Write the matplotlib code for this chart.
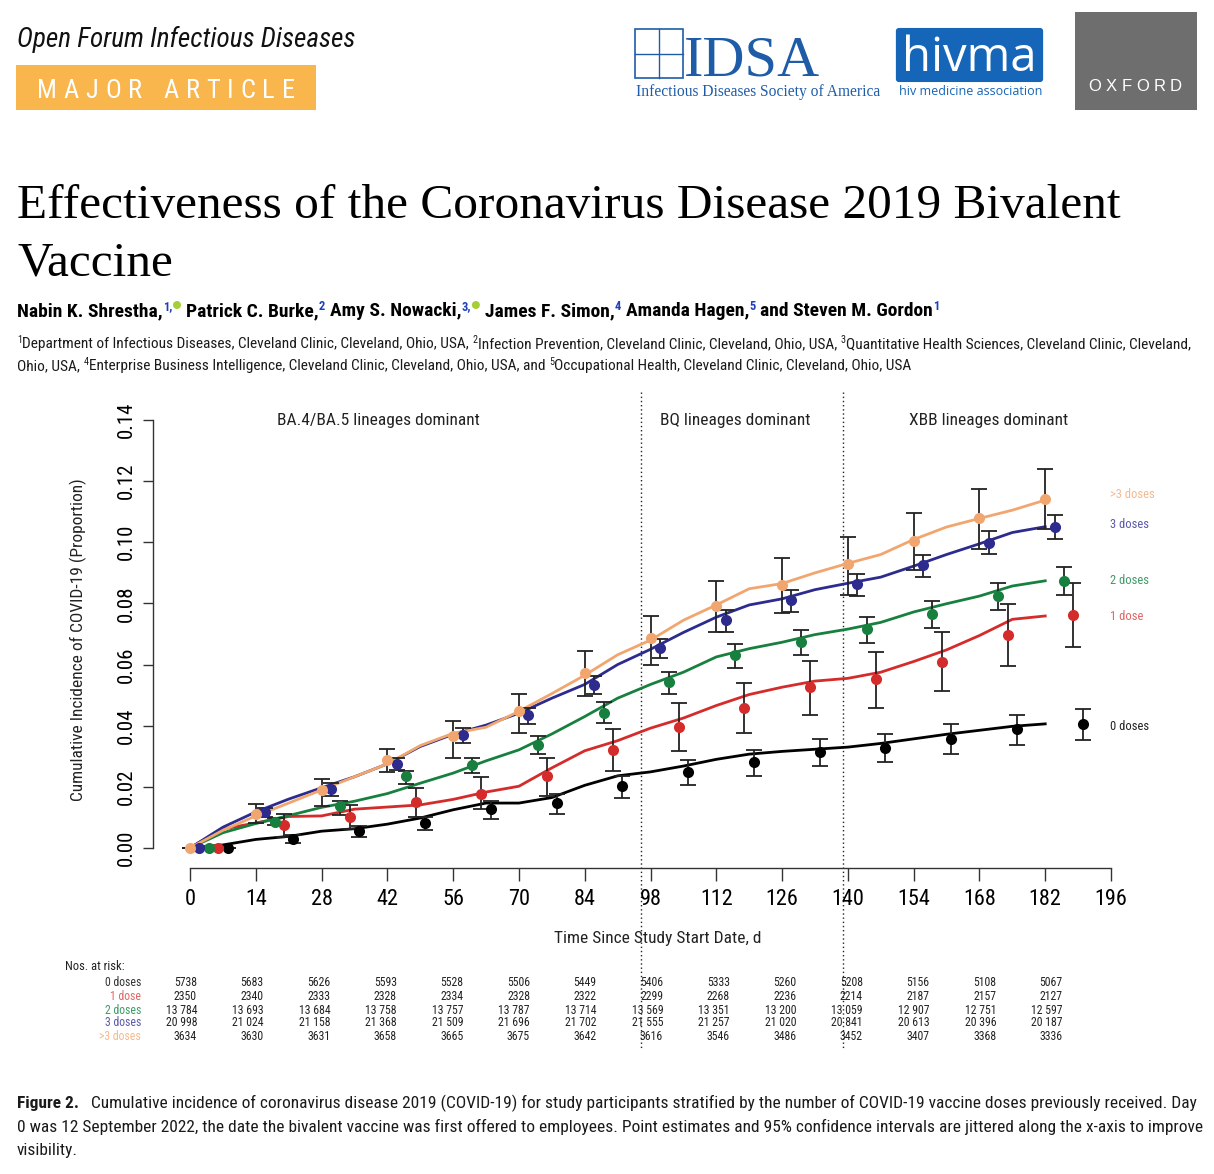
import matplotlib
matplotlib.use("Agg")
import matplotlib.pyplot as plt
from matplotlib.patches import Rectangle, FancyBboxPatch, Ellipse
from matplotlib.transforms import blended_transform_factory

# ---------------- data ----------------
curve_days = [0, 7, 14, 21, 28, 35, 42, 49, 56, 63, 70, 77, 84, 91, 98, 105,
              112, 119, 126, 133, 140, 147, 154, 161, 168, 175, 182]
ci_0 = [0, 0.0010, 0.0028, 0.0038, 0.0055, 0.0063, 0.0078, 0.0098, 0.0125, 0.0147,
        0.0147, 0.0165, 0.0205, 0.0236, 0.0249, 0.0268, 0.0290, 0.0307, 0.0316,
        0.0323, 0.0330, 0.0342, 0.0357, 0.0372, 0.0385, 0.0398, 0.0406]
ci_1 = [0, 0.0062, 0.0082, 0.0103, 0.0105, 0.0127, 0.0134, 0.0141, 0.0159, 0.0183,
        0.0202, 0.0262, 0.0318, 0.0351, 0.0392, 0.0425, 0.0466, 0.0502, 0.0526,
        0.0546, 0.0555, 0.0575, 0.0610, 0.0648, 0.0695, 0.0748, 0.0759]
ci_2 = [0, 0.0050, 0.0080, 0.0106, 0.0133, 0.0153, 0.0178, 0.0212, 0.0245, 0.0285,
        0.0321, 0.0373, 0.0430, 0.0490, 0.0535, 0.0575, 0.0625, 0.0652, 0.0673,
        0.0698, 0.0716, 0.0738, 0.0772, 0.0799, 0.0824, 0.0857, 0.0874]
ci_3 = [0, 0.0068, 0.0118, 0.0160, 0.0197, 0.0233, 0.0275, 0.0332, 0.0372, 0.0402,
        0.0441, 0.0490, 0.0535, 0.0600, 0.0650, 0.0705, 0.0755, 0.0795, 0.0815,
        0.0845, 0.0866, 0.0886, 0.0922, 0.0960, 0.0995, 0.1032, 0.1051]
ci_4 = [0, 0.0058, 0.0105, 0.0147, 0.0190, 0.0233, 0.0275, 0.0335, 0.0375, 0.0395,
        0.0447, 0.0505, 0.0565, 0.0632, 0.0680, 0.0745, 0.0795, 0.0848, 0.0865,
        0.0900, 0.0931, 0.0960, 0.1009, 0.1050, 0.1078, 0.1105, 0.1138]

pt_days = [0, 14, 28, 42, 56, 70, 84, 98, 112, 126, 140, 154, 168, 182]
pt_0 = [0, 0.0030, 0.0057, 0.0082, 0.0127, 0.0147, 0.0202, 0.0248, 0.0280, 0.0314, 0.0327, 0.0357, 0.0389, 0.0405]
lo_0 = [0, 0.0016, 0.0036, 0.0058, 0.0096, 0.0112, 0.0163, 0.0206, 0.0236, 0.0267, 0.0281, 0.0308, 0.0338, 0.0354]
hi_0 = [0, 0.0041, 0.0071, 0.0103, 0.0155, 0.0178, 0.0234, 0.0289, 0.0321, 0.0357, 0.0373, 0.0405, 0.0436, 0.0455]
pt_1 = [0, 0.0074, 0.0103, 0.0150, 0.0178, 0.0234, 0.0321, 0.0395, 0.0458, 0.0526, 0.0552, 0.0610, 0.0696, 0.0761]
lo_1 = [0, 0.0035, 0.0062, 0.0103, 0.0127, 0.0171, 0.0251, 0.0316, 0.0376, 0.0436, 0.0458, 0.0514, 0.0594, 0.0656]
hi_1 = [0, 0.0110, 0.0142, 0.0196, 0.0231, 0.0294, 0.0390, 0.0474, 0.0541, 0.0613, 0.0641, 0.0705, 0.0797, 0.0866]
pt_2 = [0, 0.0085, 0.0136, 0.0234, 0.0272, 0.0338, 0.0443, 0.0542, 0.0630, 0.0673, 0.0717, 0.0766, 0.0825, 0.0875]
lo_2 = [0, 0.0075, 0.0107, 0.0209, 0.0245, 0.0308, 0.0408, 0.0504, 0.0588, 0.0630, 0.0672, 0.0721, 0.0779, 0.0828]
hi_2 = [0, 0.0098, 0.0155, 0.0253, 0.0296, 0.0365, 0.0476, 0.0577, 0.0668, 0.0714, 0.0757, 0.0808, 0.0868, 0.0918]
pt_3 = [0, 0.0117, 0.0194, 0.0276, 0.0368, 0.0436, 0.0534, 0.0654, 0.0746, 0.0812, 0.0864, 0.0926, 0.0999, 0.1051]
lo_3 = [0, 0.0103, 0.0171, 0.0254, 0.0343, 0.0406, 0.0504, 0.0621, 0.0708, 0.0773, 0.0825, 0.0886, 0.0962, 0.1010]
hi_3 = [0, 0.0131, 0.0212, 0.0294, 0.0392, 0.0458, 0.0561, 0.0683, 0.0777, 0.0844, 0.0897, 0.0959, 0.1038, 0.1089]
pt_4 = [0, 0.0112, 0.0190, 0.0289, 0.0365, 0.0447, 0.0572, 0.0686, 0.0792, 0.0861, 0.0929, 0.1004, 0.1078, 0.1140]
lo_4 = [0, 0.0082, 0.0138, 0.0250, 0.0294, 0.0376, 0.0498, 0.0599, 0.0708, 0.0770, 0.0826, 0.0910, 0.0979, 0.1042]
hi_4 = [0, 0.0144, 0.0225, 0.0324, 0.0414, 0.0504, 0.0643, 0.0759, 0.0875, 0.0947, 0.1016, 0.1097, 0.1175, 0.1240]

risk_0 = [5738, 5683, 5626, 5593, 5528, 5506, 5449, 5406, 5333, 5260, 5208, 5156, 5108, 5067]
risk_1 = [2350, 2340, 2333, 2328, 2334, 2328, 2322, 2299, 2268, 2236, 2214, 2187, 2157, 2127]
risk_2 = [13784, 13693, 13684, 13758, 13757, 13787, 13714, 13569, 13351, 13200, 13059, 12907, 12751, 12597]
risk_3 = [20998, 21024, 21158, 21368, 21509, 21696, 21702, 21555, 21257, 21020, 20841, 20613, 20396, 20187]
risk_4 = [3634, 3630, 3631, 3658, 3665, 3675, 3642, 3616, 3546, 3486, 3452, 3407, 3368, 3336]

group_labels = ['0 doses', '1 dose', '2 doses', '3 doses', '>3 doses']
x_ticks = [0, 14, 28, 42, 56, 70, 84, 98, 112, 126, 140, 154, 168, 182, 196]
y_ticks = [0.00, 0.02, 0.04, 0.06, 0.08, 0.10, 0.12, 0.14]
era_labels = ['BA.4/BA.5 lineages dominant', 'BQ lineages dominant', 'XBB lineages dominant']
era_bounds = [96, 139]

# ---------------- styles ----------------
W, H = 1214, 1174
NARROW = ['Liberation Sans Narrow', 'Roboto Condensed', 'Liberation Sans', 'DejaVu Sans']
SERIF = ['Liberation Serif', 'DejaVu Serif']
colors = ['#000000', '#d42b2b', '#18803f', '#2d2b8e', '#f2a66f']
label_colors = ['#333333', '#e06565', '#3f9a66', '#5b59a8', '#f5b98e']
jitter = [8, 6, 4, 2, 0]

fig = plt.figure(figsize=(W / 100, H / 100), dpi=100)
fig.patch.set_facecolor('white')
renderer = fig.canvas.get_renderer()


def fx(x):
    return x / W


def fy(y):
    return 1 - y / H


def run(x, y, parts):
    """Draw inline text pieces at baseline y (pixels), left to right."""
    for s, kw in parts:
        kw = dict(kw)
        dy = kw.pop('dy', 0)
        gap = kw.pop('gap', 0)
        t = fig.text(fx(x), fy(y + dy), s, ha='left', va='baseline', **kw)
        x += t.get_window_extent(renderer).width + gap
    return x


def spaced(x, y, s, track, **kw):
    for ch in s:
        if ch == ' ':
            x += track * 2.2
            continue
        t = fig.text(fx(x), fy(y), ch, ha='left', va='baseline', **kw)
        x += t.get_window_extent(renderer).width + track
    return x

# ---------------- header ----------------
fig.text(fx(17), fy(47), 'Open Forum Infectious Diseases', family=NARROW, style='italic',
         fontsize=19.6, color='#111111', va='baseline')
fig.add_artist(Rectangle((fx(16), fy(110)), (316 - 16) / W, (110 - 65) / H,
                         transform=fig.transFigure, facecolor='#f9b64c', edgecolor='none'))
spaced(37, 98, 'MAJOR ARTICLE', 6.8, family=NARROW, fontsize=19, color='white')

# IDSA logo
blue_idsa = '#1f5ca8'
fig.add_artist(Rectangle((fx(635), fy(78)), 48 / W, 49 / H, transform=fig.transFigure,
                         facecolor='none', edgecolor=blue_idsa, lw=1.2))
fig.add_artist(plt.Line2D([fx(659), fx(659)], [fy(78), fy(29)], transform=fig.transFigure,
                          color=blue_idsa, lw=1))
fig.add_artist(plt.Line2D([fx(635), fx(683)], [fy(53.5), fy(53.5)], transform=fig.transFigure,
                          color=blue_idsa, lw=1))
fig.text(fx(684), fy(76), 'IDSA', family=SERIF, fontsize=42, color=blue_idsa, va='baseline')
fig.text(fx(636), fy(96), 'Infectious Diseases Society of America', family=SERIF, fontsize=11.2,
         color=blue_idsa, va='baseline')
# hivma logo
fig.add_artist(FancyBboxPatch((fx(899), fy(79)), (1040 - 899) / W, (79 - 31) / H,
                              boxstyle='round,pad=0.002', transform=fig.transFigure,
                              facecolor='#1565b8', edgecolor='#1565b8'))
fig.text(fx(969), fy(71), 'hivma', family=['Open Sans', 'DejaVu Sans'], fontsize=34,
         color='white', ha='center', va='baseline')
fig.text(fx(971), fy(95), 'hiv medicine association', family=['Open Sans', 'DejaVu Sans'],
         fontsize=9, color='#1565b8', ha='center', va='baseline')
# Oxford
fig.add_artist(Rectangle((fx(1075), fy(110)), (1197 - 1075) / W, (110 - 12) / H,
                         transform=fig.transFigure, facecolor='#6e6e6e', edgecolor='none'))
spaced(1088, 91, 'OXFORD', 4.6, family=['Liberation Sans', 'DejaVu Sans'], fontsize=12, color='white')

# ---------------- title / authors ----------------
fig.text(fx(17), fy(218), 'Effectiveness of the Coronavirus Disease 2019 Bivalent',
         family=SERIF, fontsize=35.6, color='black', va='baseline')
fig.text(fx(17), fy(275), 'Vaccine', family=SERIF, fontsize=35.6, color='black', va='baseline')

B = dict(family=NARROW, fontsize=14, weight='bold', color='black')
S = dict(family=NARROW, fontsize=9, weight='bold', color='#1d3fb8', dy=-6)
xa = run(17, 316, [('Nabin K. Shrestha,', B), ('1,', dict(S, gap=1))])
fig.add_artist(Ellipse((fx(xa + 4), fy(305)), 8 / W, 8 / H, transform=fig.transFigure,
                       facecolor='#a6ce39', edgecolor='none'))
xa += 13
xa = run(xa, 316, [('Patrick C. Burke,', B), ('2', dict(S, gap=5)),
                   ('Amy S. Nowacki,', B), ('3,', dict(S, gap=1))])
fig.add_artist(Ellipse((fx(xa + 4), fy(305)), 8 / W, 8 / H, transform=fig.transFigure,
                       facecolor='#a6ce39', edgecolor='none'))
xa += 13
run(xa, 316, [('James F. Simon,', B), ('4', dict(S, gap=5)),
              ('Amanda Hagen,', B), ('5', dict(S, gap=5)),
              ('and Steven M. Gordon', B), ('1', S)])

A = dict(family=NARROW, fontsize=11.05, color='#1a1a1a')
AS = dict(family=NARROW, fontsize=7.3, color='#1a1a1a', dy=-5)
run(17, 348, [('1', AS), ('Department of Infectious Diseases, Cleveland Clinic, Cleveland, Ohio, USA,', dict(A, gap=4)),
              ('2', AS), ('Infection Prevention, Cleveland Clinic, Cleveland, Ohio, USA,', dict(A, gap=4)),
              ('3', AS), ('Quantitative Health Sciences, Cleveland Clinic, Cleveland,', A)])
run(17, 370, [('Ohio, USA,', dict(A, gap=4)), ('4', AS),
              ('Enterprise Business Intelligence, Cleveland Clinic, Cleveland, Ohio, USA, and', dict(A, gap=4)),
              ('5', AS), ('Occupational Health, Cleveland Clinic, Cleveland, Ohio, USA', A)])

# ---------------- chart ----------------
px_per_day = 921 / 196
px_per_unit = 428 / 0.14
x_left, x_right = (153 - 190) / px_per_day, 205
y_bottom, y_top = -(868 - 848) / px_per_unit, 0.147
ax_l = 153
ax_r = 190 + x_right * px_per_day
ax_t = 848 - y_top * px_per_unit
ax = fig.add_axes([fx(ax_l), fy(868), (ax_r - ax_l) / W, (868 - ax_t) / H])
ax.set_xlim(x_left, x_right)
ax.set_ylim(y_bottom, y_top)
ax.patch.set_alpha(0)
for sp in ['top', 'right']:
    ax.spines[sp].set_visible(False)
ax.spines['left'].set_bounds(0, 0.14)
ax.spines['bottom'].set_bounds(0, 196)
for sp in ['left', 'bottom']:
    ax.spines[sp].set_color('#333333')
    ax.spines[sp].set_linewidth(1.0)
ax.set_xticks(x_ticks)
ax.set_xticklabels([str(v) for v in x_ticks], family=NARROW, fontsize=16)
ax.set_yticks(y_ticks)
ax.set_yticklabels([f'{v:.2f}' for v in y_ticks], family=NARROW, fontsize=15,
                   rotation=90, va='center')
ax.tick_params(axis='x', length=9, width=1, color='#333333', pad=6)
ax.tick_params(axis='y', length=7, width=1, color='#333333', pad=5)

curves = [ci_0, ci_1, ci_2, ci_3, ci_4]
pts = [pt_0, pt_1, pt_2, pt_3, pt_4]
los = [lo_0, lo_1, lo_2, lo_3, lo_4]
his = [hi_0, hi_1, hi_2, hi_3, hi_4]
for i in range(5):
    ax.plot(curve_days, curves[i], color=colors[i], lw=2.0, zorder=2 + i * 0.1,
            solid_joinstyle='miter')
for i in range(5):
    xs = [d + jitter[i] for d in pt_days]
    yerr = [[p - l for p, l in zip(pts[i], los[i])], [h - p for p, h in zip(pts[i], his[i])]]
    ax.errorbar(xs, pts[i], yerr=yerr, fmt='none', ecolor='#222222', elinewidth=1.3,
                capsize=6, capthick=1.3, zorder=4)
    ax.plot(xs, pts[i], 'o', color=colors[i], markersize=8, zorder=5, markeredgewidth=0)

# era separators (span table too)
bt = blended_transform_factory(ax.transData, fig.transFigure)
for d in era_bounds:
    ax.plot([d, d], [fy(392), fy(1050)], transform=bt, color='#222222', lw=1.0,
            ls=(0, (1, 2)), clip_on=False, zorder=1)
era_x = [40, 116, 170]
for lab, xpos in zip(era_labels, era_x):
    ax.text(xpos, fy(420), lab, transform=bt, family=NARROW, fontsize=12.5,
            ha='center', va='center', color='#222222')

# right-hand group labels
lab_y = [727, 617, 580, 525, 494]
for i in range(5):
    ax.text(195.8, (848 - lab_y[i]) / px_per_unit, group_labels[i], family=NARROW,
            fontsize=9, color=label_colors[i] if i != 0 else '#222222', ha='left', va='center')

fig.text(fx(658), fy(938), 'Time Since Study Start Date, d', family=NARROW, fontsize=12.5,
         ha='center', va='center', color='#222222')
fig.text(fx(78), fy(640), 'Cumulative Incidence of COVID-19 (Proportion)', family=NARROW,
         fontsize=12.5, rotation=90, ha='center', va='center', color='#222222')

# ---------------- numbers at risk ----------------
fig.text(fx(65), fy(967), 'Nos. at risk:', family=NARROW, fontsize=9, va='center', color='#222222')
risks = [risk_0, risk_1, risk_2, risk_3, risk_4]
row_y = [982, 996, 1010, 1023, 1037]


def fmt(n):
    return f'{n:,}'.replace(',', ' ') if n >= 10000 else str(n)


for i in range(5):
    fig.text(fx(141), fy(row_y[i]), group_labels[i], family=NARROW, fontsize=8.5,
             ha='right', va='center', color=label_colors[i])
    for k, n in enumerate(risks[i]):
        fig.text(fx(197 + k * 66.6), fy(row_y[i]), fmt(n), family=NARROW, fontsize=8.5,
                 ha='right', va='center', color='#222222')

# ---------------- caption ----------------
C = dict(family=NARROW, fontsize=12.5, color='#1a1a1a')
run(17, 1108, [('Figure 2.', dict(C, weight='bold', gap=12)),
               ('Cumulative incidence of coronavirus disease 2019 (COVID-19) for study participants '
                'stratified by the number of COVID-19 vaccine doses previously received. Day', C)])
fig.text(fx(17), fy(1132), '0 was 12 September 2022, the date the bivalent vaccine was first offered to '
         'employees. Point estimates and 95% confidence intervals are jittered along the x-axis to improve',
         va='baseline', **C)
fig.text(fx(17), fy(1155), 'visibility.', va='baseline', **C)

fig.savefig('out.png', dpi=100, facecolor='white')
